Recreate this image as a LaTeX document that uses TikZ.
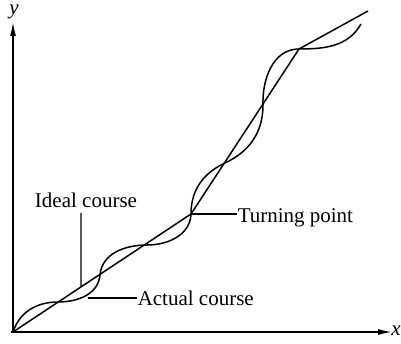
\documentclass[tikz,border=0pt]{standalone}
\usepackage{fontspec}
\setmainfont{Liberation Serif}
\usetikzlibrary{arrows.meta}
\begin{document}
\begin{tikzpicture}[x=0.5pt,y=0.5pt,line width=0.75pt,
  axis/.style={-{Latex[length=7pt,width=3pt]}},
  lbl/.style={font=\fontsize{10.5}{12}\selectfont,inner sep=0pt},
  axlbl/.style={font=\fontsize{10.5}{12}\selectfont\itshape,inner sep=0pt},
  leader/.style={line width=0.7pt}]
\useasboundingbox (0,0) rectangle (401,343);
% axes
\coordinate (O) at (13,11);
\coordinate (Ytip) at (13,321);
\coordinate (Xtip) at (392,11);
\coordinate (Ostart) at (11,11);
\draw[axis] (O) -- (Ytip);
\draw[axis] (Ostart) -- (Xtip);
\node[axlbl] (ylab) at (14,331) {y};
\node[axlbl] (xlab) at (396,12) {x};
% ideal course
\coordinate (T) at (191,129);
\coordinate (K) at (299,294);
\coordinate (E) at (368,332);
\draw (O) -- (T) -- (K) -- (E);
% actual course
\coordinate (A1) at (58,41);
\coordinate (A2) at (100,68);
\coordinate (A3) at (147,98);
\coordinate (A4) at (225,180);
\coordinate (A5) at (263,238);
\coordinate (A6) at (361,319);
\draw (O) to[out=72,in=180] (A1)
          to[out=0,in=-95] (A2)
          to[out=85,in=180] (A3)
          to[out=0,in=-92] (T)
          to[out=90,in=205] (A4)
          to[out=25,in=-90] (A5)
          to[out=92,in=180] (K)
          to[out=0,in=240] (A6);
% labels
\path (O) -- (T) coordinate[pos=0.382] (iL);
\node[lbl,anchor=base] (ideal) at (86,136) {Ideal course};
\coordinate (iTop) at (81,130);
\draw[leader] (iL) -- (iTop);
\coordinate (aL) at (88,45);
\node[lbl,anchor=base west] (actual) at (137,38) {Actual course};
\draw[leader] (aL) -- (aL -| actual.west);
\node[lbl,anchor=base west] (turn) at (237,121) {Turning point};
\draw[leader] (T) -- (T -| turn.west);
\end{tikzpicture}
\end{document}
